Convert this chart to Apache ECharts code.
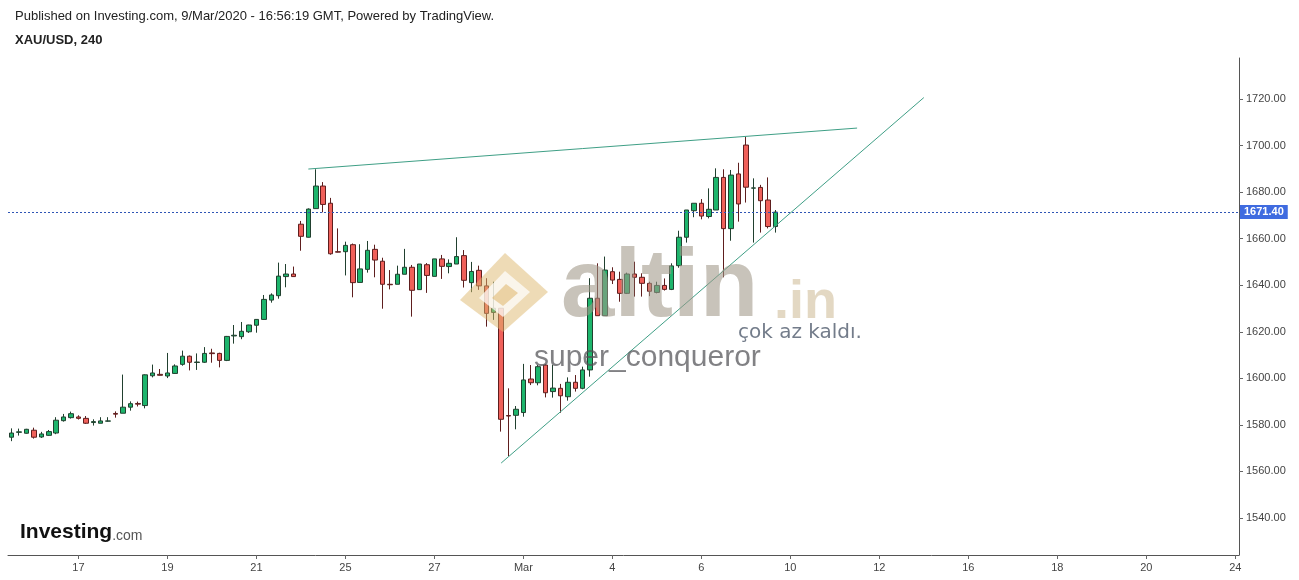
<!DOCTYPE html>
<html>
<head>
<meta charset="utf-8">
<script src="https://cdn.jsdelivr.net/npm/echarts@6/dist/echarts.min.js"></script>
<style>
html,body{margin:0;padding:0;background:#fff;}
#chart{width:1299px;height:580px;}
</style>
</head>
<body>
<div id="chart"></div>
<script>
// ---- data (4h candles, XAU/USD) ----
const opens = [1574.7,1576.8,1576.4,1577.7,1574.8,1575.5,1576.5,1581.8,1583.1,1583.4,
1582.8,1581.0,1580.7,1581.6,1584.9,1585.0,1587.6,1589.2,1588.3,1601.1,
1601.7,1601.0,1602.1,1606.0,1609.5,1606.8,1606.9,1610.9,1610.7,1607.7,
1618.2,1617.9,1620.0,1622.8,1625.3,1633.6,1635.5,1643.7,1644.8,1666.2,
1660.6,1672.9,1682.6,1675.2,1654.4,1654.4,1657.4,1641.2,1646.8,1655.4,
1650.3,1640.4,1640.4,1644.7,1647.7,1638.1,1648.8,1643.8,1651.3,1648.0,
1649.1,1652.7,1641.1,1646.4,1639.7,1628.3,1630.1,1584.0,1584.1,1585.3,
1599.7,1598.1,1605.7,1594.3,1595.7,1592.1,1598.3,1595.7,1603.6,1634.4,
1626.9,1645.8,1642.5,1636.5,1644.8,1643.4,1640.8,1636.9,1639.9,1638.2,
1648.4,1660.6,1672.0,1675.2,1669.5,1672.3,1686.3,1664.3,1687.8,1700.2,
1681.7,1682.0,1676.6,1665.2];
const closes = [1576.5,1577.0,1578.1,1574.7,1576.1,1577.1,1582.0,1583.4,1584.8,1582.8,
1580.7,1581.4,1581.7,1581.7,1584.6,1587.6,1589.1,1588.9,1601.5,1602.3,
1601.3,1602.3,1605.3,1609.5,1606.9,1607.0,1610.7,1610.6,1607.7,1618.0,
1618.5,1620.2,1622.9,1625.3,1633.9,1635.8,1643.9,1644.8,1643.7,1661.0,
1672.7,1682.6,1674.7,1653.5,1654.2,1657.1,1641.1,1647.0,1655.0,1650.8,
1640.4,1640.2,1644.7,1647.7,1637.8,1649.1,1644.2,1651.3,1648.1,1649.4,
1652.3,1642.1,1645.9,1639.7,1627.9,1630.1,1582.4,1583.8,1586.7,1599.3,
1598.1,1605.0,1593.8,1595.8,1592.5,1598.3,1595.7,1603.6,1634.4,1626.9,
1646.5,1642.2,1636.5,1644.8,1643.4,1640.8,1637.4,1639.9,1638.2,1648.3,
1660.6,1672.3,1675.2,1669.7,1672.6,1686.3,1664.3,1687.3,1674.9,1682.1,
1681.8,1676.3,1665.2,1671.4];
const lows = [1573.0,1575.4,1576.2,1574.1,1574.4,1575.3,1576.0,1581.4,1582.7,1582.3,
1580.4,1579.7,1580.7,1581.4,1583.1,1585.0,1586.1,1587.9,1587.1,1600.4,
1601.2,1600.1,1601.9,1605.4,1603.4,1603.6,1606.6,1606.7,1604.7,1607.4,
1614.9,1616.8,1619.5,1619.6,1625.2,1632.5,1634.2,1639.1,1643.6,1654.8,
1660.5,1672.8,1671.3,1653.1,1654.1,1644.2,1634.8,1641.2,1645.4,1643.4,
1629.9,1638.2,1640.4,1644.7,1626.5,1638.1,1636.7,1643.8,1642.7,1645.1,
1649.1,1639.0,1637.0,1638.0,1622.2,1625.1,1577.1,1566.6,1578.1,1583.5,
1597.1,1597.0,1591.8,1591.7,1585.2,1590.4,1594.3,1595.3,1600.7,1626.9,
1626.9,1640.5,1632.9,1636.2,1635.1,1635.1,1635.3,1636.5,1637.7,1637.9,
1647.5,1658.3,1669.2,1668.3,1668.7,1672.3,1643.4,1659.1,1667.3,1675.5,
1658.3,1662.6,1664.4,1662.6];
const highs = [1578.5,1578.4,1578.3,1578.8,1577.0,1577.8,1583.3,1584.7,1585.7,1584.1,
1583.8,1582.4,1583.3,1583.3,1585.8,1601.6,1590.1,1590.0,1601.7,1605.9,
1604.0,1610.9,1606.0,1611.9,1609.8,1610.7,1613.4,1612.7,1611.0,1618.2,
1622.9,1624.2,1623.0,1625.4,1635.8,1636.5,1649.7,1649.1,1648.0,1667.6,
1673.0,1689.8,1684.3,1677.5,1664.4,1658.7,1657.9,1657.6,1659.0,1657.4,
1651.8,1646.5,1648.4,1655.6,1648.7,1649.1,1649.5,1651.3,1653.0,1651.1,
1660.6,1655.1,1650.0,1648.4,1643.0,1641.5,1630.2,1595.7,1588.1,1606.2,
1605.7,1605.7,1606.0,1605.7,1597.6,1600.4,1601.4,1605.0,1643.0,1649.4,
1652.3,1647.7,1645.8,1645.4,1650.1,1645.1,1641.5,1641.5,1642.9,1649.4,
1663.4,1672.3,1675.2,1677.0,1681.6,1690.2,1689.8,1689.5,1692.6,1703.8,
1685.9,1683.1,1686.3,1672.3];

// x axis: one slot per 4h bar, date labels every 12 bars (2 trading days)
const barSlots = 166;
const firstLabelBar = 9;
const labelEvery = 12;
const dayLabels = ['17','19','21','25','27','Mar','4','6','10','12','16','18','20','24'];
const priceTicks = [1540,1560,1580,1600,1620,1640,1660,1680,1700,1720];
const lastPrice = 1671.40;
// trend lines: [barIndex, price] pairs
const trendLines = [
  [[40, 1689.9], [114, 1707.5]],
  [[66, 1563.6], [123, 1720.6]]
];

const categories = [];
const labelAt = {};
for (let i = 0; i < barSlots; i++) {
  categories.push('b' + i);
  const k = i - firstLabelBar;
  if (k >= 0 && k % labelEvery === 0 && dayLabels[k / labelEvery] !== undefined) {
    labelAt[i] = dayLabels[k / labelEvery];
  }
}
const candles = opens.map((o, i) => [o, closes[i], lows[i], highs[i]]);

const chart = echarts.init(document.getElementById('chart'), null, {renderer: 'canvas'});
const FONT = '"Liberation Sans", Arial, sans-serif';

const markData = [
  {yAxis: lastPrice, lineStyle: {color: '#2f55b5', type: [2, 2], width: 1},
    label: {show: true, position: 'end', distance: 1, formatter: lastPrice.toFixed(2),
      backgroundColor: '#3f6be0', color: '#fff', fontWeight: 'bold', fontSize: 11,
      fontFamily: FONT, padding: [2, 4, 1, 4]}}
];
trendLines.forEach(t => {
  markData.push([
    {coord: t[0], lineStyle: {color: '#3f9f86', width: 1, type: 'solid'}, label: {show: false}},
    {coord: t[1]}
  ]);
});

const option = {
  animation: false,
  backgroundColor: '#ffffff',
  grid: {left: 8, right: 60, top: 58, bottom: 25, containLabel: false},
  xAxis: {
    type: 'category',
    data: categories,
    boundaryGap: true,
    axisLine: {show: true, lineStyle: {color: '#555', width: 1}},
    axisTick: {show: true, alignWithLabel: true, length: 4,
      interval: (i) => labelAt[i] !== undefined, lineStyle: {color: '#666'}},
    axisLabel: {show: true, interval: (i) => labelAt[i] !== undefined,
      formatter: (v, i) => labelAt[i] || '', color: '#444', fontSize: 11,
      fontFamily: FONT, margin: 7},
    splitLine: {show: false}
  },
  yAxis: {
    type: 'value',
    position: 'right',
    min: 1524.1,
    max: 1737.6,
    scale: true,
    axisLine: {show: true, lineStyle: {color: '#555', width: 1}},
    axisTick: {show: true, length: 4, customValues: priceTicks, lineStyle: {color: '#666'}},
    axisLabel: {show: true, customValues: priceTicks, formatter: (v) => v.toFixed(2),
      color: '#444', fontSize: 11, fontFamily: FONT, margin: 7},
    splitLine: {show: false}
  },
  series: [{
    type: 'candlestick',
    data: candles,
    barWidth: 5,
    itemStyle: {
      color: '#1db56c', color0: '#f0605a',
      borderColor: '#21402f', borderColor0: '#5e1e1e', borderWidth: 1
    },
    markLine: {
      silent: true,
      symbol: ['none', 'none'],
      animation: false,
      data: markData
    }
  }],
  graphic: [
    {type: 'text', left: 15, top: 10, style: {text: 'Published on Investing.com, 9/Mar/2020 - 16:56:19 GMT, Powered by TradingView.', font: '13px ' + FONT, fill: '#222'}},
    {type: 'text', left: 15, top: 34, style: {text: 'XAU/USD, 240', font: 'bold 13px ' + FONT, fill: '#222'}},
    {type: 'text', left: 20, top: 522, style: {text: '{a|Investing}{b|.com}', rich: {
      a: {fontFamily: FONT, fontWeight: 'bold', fontSize: 21, fill: '#111', verticalAlign: 'bottom'},
      b: {fontFamily: FONT, fontSize: 14, fill: '#555', verticalAlign: 'bottom'}}}},
    // watermark logo
    {type: 'polygon', z: 100, shape: {points: [[460,300],[505,253],[548,292],[503,332]]}, style: {fill: 'rgba(222,184,110,0.5)'}},
    {type: 'polygon', z: 101, shape: {points: [[479,298],[505,271],[530,292],[503,317]]}, style: {fill: 'rgba(255,255,255,0.72)'}},
    {type: 'polygon', z: 102, shape: {points: [[492,298],[506,284],[518,293],[503,306]]}, style: {fill: 'rgba(222,180,105,0.55)'}},
    {type: 'text', z: 100, x: 561, y: 290, style: {text: 'altin', font: 'bold 96px ' + FONT, fill: 'rgba(160,152,136,0.58)', verticalAlign: 'middle'}},
    {type: 'text', z: 100, x: 774, y: 303, style: {text: '.in', font: 'bold 54px ' + FONT, fill: 'rgba(200,178,135,0.5)', verticalAlign: 'middle'}},
    {type: 'text', z: 100, x: 738, y: 333, style: {text: 'çok az kaldı.', font: '20px "DejaVu Sans", sans-serif', fill: 'rgba(100,110,125,0.9)', verticalAlign: 'middle'}},
    {type: 'text', z: 100, x: 534, y: 358, style: {text: 'super_conqueror', font: '30px ' + FONT, fill: 'rgba(80,80,85,0.72)', verticalAlign: 'middle'}}
  ]
};
chart.setOption(option);
</script>
</body>
</html>
